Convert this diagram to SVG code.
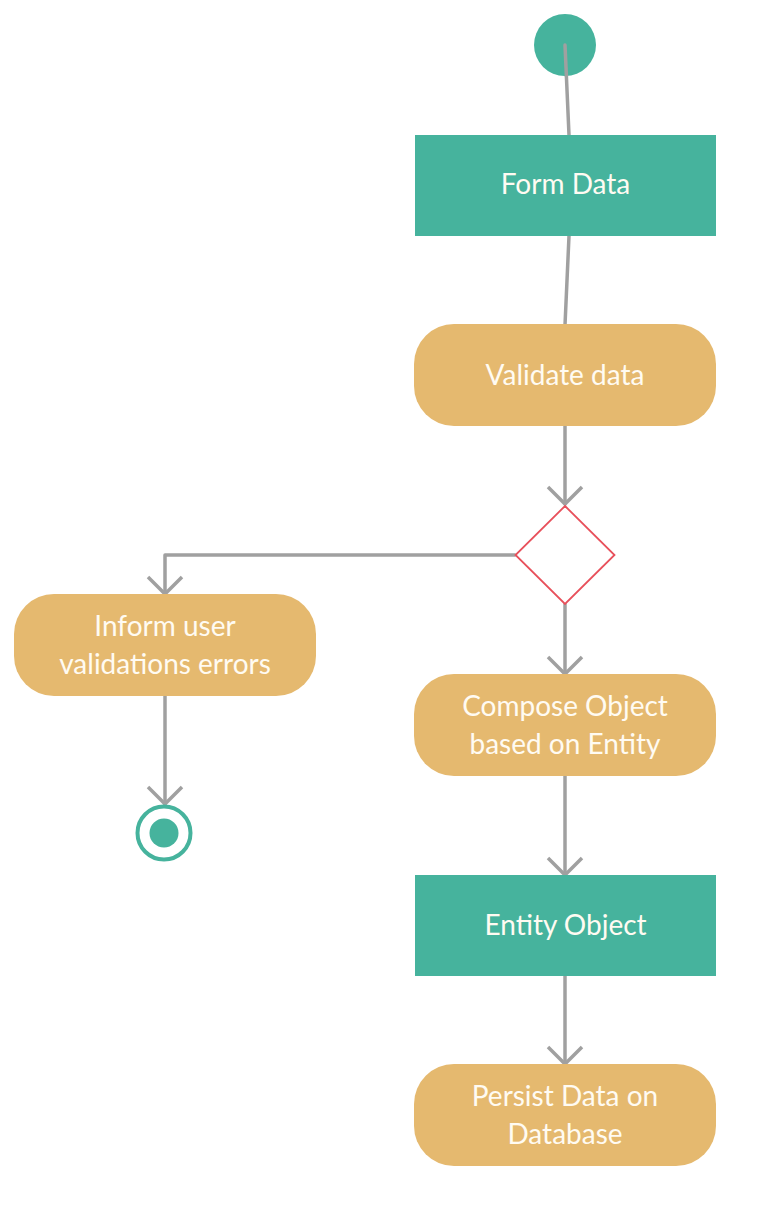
<svg xmlns="http://www.w3.org/2000/svg" width="768" height="1206" viewBox="0 0 768 1206">
<defs>
<style>
.teal{fill:#46B39D;}
.act{fill:#E5B96F;}
.lbl{font-family:Lato,"Open Sans","Liberation Sans",sans-serif;font-size:28px;font-weight:400;fill:#FFFBF2;text-anchor:middle;}
.edge{stroke:#A0A0A0;stroke-width:3.5;fill:none;stroke-linecap:round;stroke-linejoin:round;}
</style>
<marker id="arr" viewBox="-20 -20 24 40" refX="0" refY="0" markerWidth="24" markerHeight="40" markerUnits="userSpaceOnUse" orient="auto">
<path d="M-17,-17 L0,0 L-17,17" fill="none" stroke="#A0A0A0" stroke-width="3.5" stroke-linecap="butt"/>
</marker>
</defs>
<rect width="768" height="1206" fill="#ffffff"/>
<g id="connectors">
<path class="edge" d="M565,45 L569,135"/>
<path class="edge" d="M569,236 L565,325"/>
<path class="edge" d="M565,426 L565,504" marker-end="url(#arr)"/>
<path class="edge" d="M515,555 L165,555 L165,594" marker-end="url(#arr)"/>
<path class="edge" d="M165,696 L165,804" marker-end="url(#arr)"/>
<path class="edge" d="M565,604 L565,674" marker-end="url(#arr)"/>
<path class="edge" d="M565,776 L565,875" marker-end="url(#arr)"/>
<path class="edge" d="M565,976 L565,1064" marker-end="url(#arr)"/>
</g>
<g id="start">
<circle class="teal" cx="565" cy="45" r="31"/>
<path class="edge" d="M565,45 L566.4,76"/>
</g>
<g id="form-data">
<rect class="teal" x="415" y="135" width="301" height="101"/>
<text class="lbl" x="565.5" y="194">Form Data</text>
</g>
<g id="validate-data">
<rect class="act" x="414" y="324" width="302" height="102" rx="40" ry="40"/>
<text class="lbl" x="565" y="385">Validate data</text>
</g>
<g id="decision">
<polygon points="565,506 614.5,555 565,604 515.5,555" fill="#ffffff" stroke="#E8505B" stroke-width="1.8"/>
</g>
<g id="inform-user">
<rect class="act" x="14" y="594" width="302" height="102" rx="40" ry="40"/>
<text class="lbl" x="165" y="636">Inform user</text>
<text class="lbl" x="165" y="674">validations errors</text>
</g>
<g id="end">
<circle cx="164" cy="833" r="26.5" fill="#ffffff" stroke="#46B39D" stroke-width="4"/>
<circle class="teal" cx="164" cy="833" r="14.5"/>
</g>
<g id="compose-object">
<rect class="act" x="414" y="674" width="302" height="102" rx="40" ry="40"/>
<text class="lbl" x="565" y="716">Compose Object</text>
<text class="lbl" x="565" y="754">based on Entity</text>
</g>
<g id="entity-object">
<rect class="teal" x="415" y="875" width="301" height="101"/>
<text class="lbl" x="565.5" y="935">Entity Object</text>
</g>
<g id="persist-data">
<rect class="act" x="414" y="1064" width="302" height="102" rx="40" ry="40"/>
<text class="lbl" x="565" y="1106">Persist Data on</text>
<text class="lbl" x="565" y="1144">Database</text>
</g>
</svg>
